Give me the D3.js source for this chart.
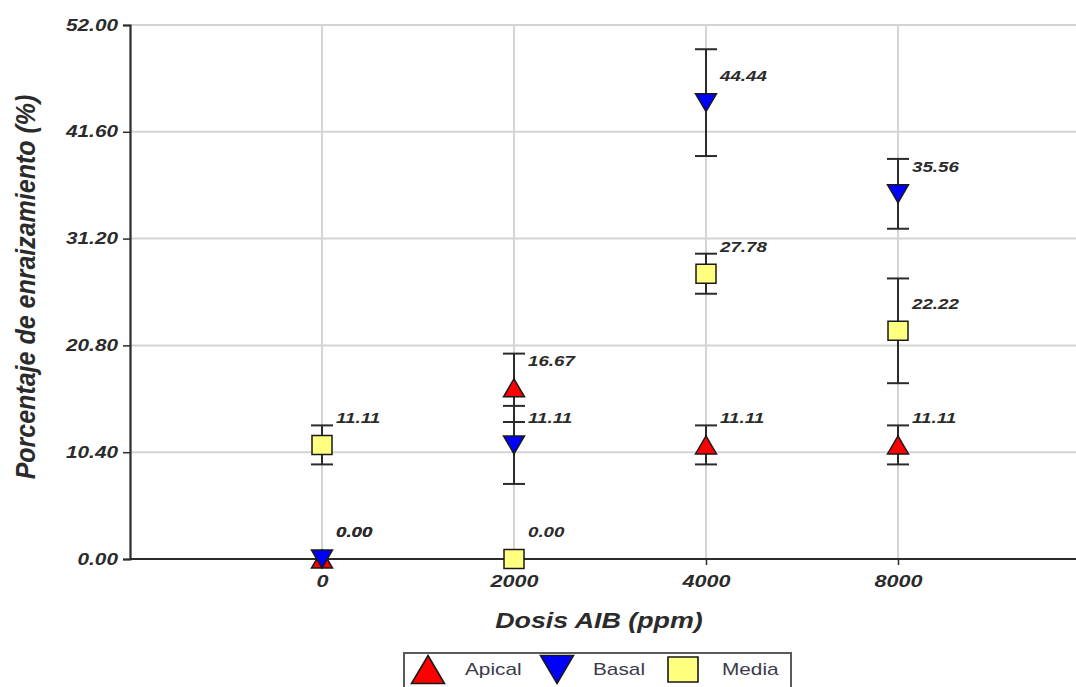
<!DOCTYPE html>
<html>
<head>
<meta charset="utf-8">
<script src="https://cdn.jsdelivr.net/npm/d3@7"></script>
<style>
  html, body { margin: 0; padding: 0; background: #fff; }
  svg { display: block; }
  text { font-family: "Liberation Sans", Arial, sans-serif; }
</style>
</head>
<body>
<svg id="chart" width="1076" height="687"></svg>
<script>
// Dose categories (ppm of AIB)
const doses = ["0", "2000", "4000", "8000"];

// Rooting percentage per cutting position, with error half-widths
const apical    = [0, 16.67, 11.11, 11.11];
const apicalErr = [0, 3.33, 1.9, 1.9];
const basal     = [0, 11.11, 44.44, 35.56];
const basalErr  = [0, 3.8, 5.2, 3.4];
const media     = [11.11, 0, 27.78, 22.22];
const mediaErr  = [1.9, 0, 1.95, 5.1];

// Y tick values
const yTicks = [0, 10.4, 20.8, 31.2, 41.6, 52];

const series = [
  { name: "Apical", values: apical, err: apicalErr, shape: "up",     fill: "#ff0000" },
  { name: "Basal",  values: basal,  err: basalErr,  shape: "down",   fill: "#0000ff" },
  { name: "Media",  values: media,  err: mediaErr,  shape: "square", fill: "#ffff80" }
];

const svg = d3.select("#chart");
const W = 1076;

const x = d3.scalePoint().domain(doses).range([130, 1090]).padding(1);
const y = d3.scaleLinear().domain([0, 52]).range([559, 25]);

const ink = "#2b2b2b";
const gridColor = "#d4d4d4";

// stretch a text element horizontally about its anchor point
function stretch(sel, k) {
  sel.attr("transform", function () {
    const tx = +this.getAttribute("x") || 0;
    const ty = +this.getAttribute("y") || 0;
    return `translate(${tx},${ty}) scale(${k},1) translate(${-tx},${-ty})`;
  });
}

// grid
const grid = svg.append("g");
grid.selectAll("line.h").data(yTicks.filter(d => d > 0)).join("line")
  .attr("x1", x.range()[0]).attr("x2", W)
  .attr("y1", d => y(d)).attr("y2", d => y(d))
  .attr("stroke", gridColor).attr("stroke-width", 2);
grid.selectAll("line.v").data(doses).join("line")
  .attr("x1", d => x(d)).attr("x2", d => x(d))
  .attr("y1", y(52)).attr("y2", y(0))
  .attr("stroke", gridColor).attr("stroke-width", 2);

// y axis
const yAxis = svg.append("g")
  .attr("transform", `translate(${x.range()[0]},0)`)
  .call(d3.axisLeft(y).tickValues(yTicks).tickFormat(d3.format(".2f")).tickSize(7).tickPadding(5));
yAxis.select(".domain").attr("stroke", ink).attr("stroke-width", 2.2);
yAxis.selectAll(".tick line").attr("stroke", ink).attr("stroke-width", 1.5);
yAxis.selectAll(".tick text")
  .attr("fill", ink)
  .style("font-size", "16px").style("font-weight", "bold").style("font-style", "italic")
  .call(stretch, 1.3);

// x axis
const xAxis = svg.append("g")
  .attr("transform", `translate(0,${y(0)})`)
  .call(d3.axisBottom(x).tickSize(6).tickPadding(10));
xAxis.select(".domain").attr("d", `M${x.range()[0]},0H${W}`)
  .attr("stroke", ink).attr("stroke-width", 2.2);
xAxis.selectAll(".tick line").attr("stroke", ink).attr("stroke-width", 1.5);
xAxis.selectAll(".tick text")
  .attr("fill", ink)
  .style("font-size", "17px").style("font-weight", "bold").style("font-style", "italic")
  .call(stretch, 1.27);

// axis titles
svg.append("text")
  .attr("x", 599).attr("y", 628)
  .attr("text-anchor", "middle")
  .attr("fill", ink)
  .style("font-size", "22px").style("font-weight", "bold").style("font-style", "italic")
  .text("Dosis AIB (ppm)")
  .call(stretch, 1.22);

svg.append("text")
  .attr("transform", "translate(35,287) rotate(-90) scale(1,1.12)")
  .attr("text-anchor", "middle")
  .attr("fill", ink)
  .style("font-size", "25px").style("font-weight", "bold").style("font-style", "italic")
  .text("Porcentaje de enraizamiento (%)");

// marker path generator
const TW = 21, TH = 18, SQ = 20;
function markerPath(shape, w, h) {
  if (shape === "up")   return `M0,${-h / 2}L${w / 2},${h / 2}L${-w / 2},${h / 2}Z`;
  if (shape === "down") return `M0,${h / 2}L${w / 2},${-h / 2}L${-w / 2},${-h / 2}Z`;
  return `M${-w / 2},${-h / 2}H${w / 2}V${h / 2}H${-w / 2}Z`;
}

// error bars
const cap = 11;
const eb = svg.append("g").attr("stroke", ink).attr("stroke-width", 2).attr("fill", "none");
series.forEach(s => {
  doses.forEach((d, i) => {
    const e = s.err[i];
    if (!e) return;
    const cx = x(d), top = y(s.values[i] + e), bot = y(s.values[i] - e);
    eb.append("line").attr("x1", cx).attr("x2", cx).attr("y1", top).attr("y2", bot);
    eb.append("line").attr("x1", cx - cap).attr("x2", cx + cap).attr("y1", top).attr("y2", top);
    eb.append("line").attr("x1", cx - cap).attr("x2", cx + cap).attr("y1", bot).attr("y2", bot);
  });
});

// markers
series.forEach(s => {
  svg.append("g").selectAll("path").data(s.values).join("path")
    .attr("transform", (v, i) => `translate(${x(doses[i])},${y(v)})`)
    .attr("d", s.shape === "square" ? markerPath("square", SQ, 19) : markerPath(s.shape, TW, TH))
    .attr("fill", s.fill)
    .attr("stroke", "#1a1a1a").attr("stroke-width", 1.5);
});

// value labels
series.forEach(s => {
  svg.append("g").selectAll("text").data(s.values).join("text")
    .attr("x", (v, i) => x(doses[i]) + 14)
    .attr("y", v => y(v) - 22)
    .attr("fill", ink)
    .style("font-size", "15px").style("font-weight", "bold").style("font-style", "italic")
    .text(v => d3.format(".2f")(v))
    .call(stretch, 1.25);
});

// legend
const legend = svg.append("g");
legend.append("rect")
  .attr("x", 404).attr("y", 653).attr("width", 387).attr("height", 60)
  .attr("fill", "#fff").attr("stroke", "#5a5a5a").attr("stroke-width", 2);
const legendItems = [
  { s: series[0], mx: 428, tx: 465, w: 33, h: 28 },
  { s: series[1], mx: 557, tx: 593, w: 33, h: 28 },
  { s: series[2], mx: 683, tx: 722, w: 30, h: 25 }
];
legendItems.forEach(it => {
  legend.append("path")
    .attr("transform", `translate(${it.mx},${669.5})`)
    .attr("d", markerPath(it.s.shape, it.w, it.h))
    .attr("fill", it.s.fill)
    .attr("stroke", "#1a1a1a").attr("stroke-width", 1.6);
  legend.append("text")
    .attr("x", it.tx).attr("y", 675)
    .attr("fill", "#3a3a4a")
    .style("font-size", "16px")
    .text(it.s.name)
    .call(stretch, 1.3);
});
</script>
</body>
</html>
